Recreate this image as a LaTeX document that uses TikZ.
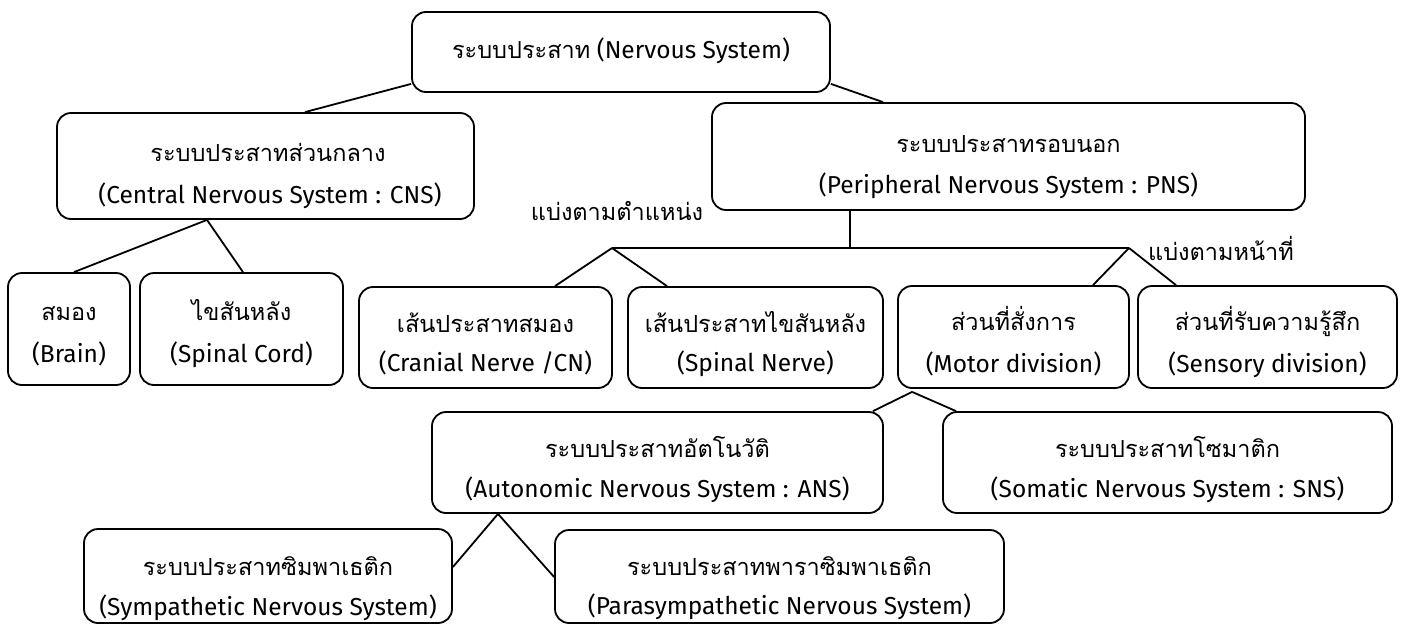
\documentclass[tikz,border=0pt]{standalone}
\usepackage{fontspec}
\setmainfont{Fira Sans}
\newfontfamily\thfont[Script=Thai]{Loma}
\usetikzlibrary{calc}
\tikzset{
  box/.style={draw=black, line width=1.8pt, rounded corners=14pt, fill=white, inner sep=0pt},
  ln/.style={anchor=base, inner sep=0pt, font=\fontsize{24.5}{30}\selectfont},
  conn/.style={draw=black, line width=1.8pt},
}
\newcommand{\T}[1]{{\thfont\fontsize{23.5}{28}\selectfont #1}}
\begin{document}
\begin{tikzpicture}[x=1pt,y=-1pt]
\useasboundingbox (0,0) rectangle (1403,624);
% boxes: center x, center y, width, height
\node[box, minimum width=418, minimum height=80] (ns) at (621,52) {};
\node[box, minimum width=417, minimum height=106] (cns) at (265.5,166) {};
\node[box, minimum width=593, minimum height=107] (pns) at (1008.5,156.5) {};
\node[box, minimum width=122, minimum height=112] (brain) at (69,329) {};
\node[box, minimum width=203, minimum height=112] (cord) at (241.5,329) {};
\node[box, minimum width=253, minimum height=101] (cn) at (485.5,337.5) {};
\node[box, minimum width=255, minimum height=101] (sn) at (755.5,337.5) {};
\node[box, minimum width=231, minimum height=102] (motor) at (1013.5,337) {};
\node[box, minimum width=259, minimum height=102] (sens) at (1267.5,337) {};
\node[box, minimum width=451, minimum height=101] (ans) at (657.5,462.5) {};
\node[box, minimum width=449, minimum height=101] (sns) at (1167.5,462.5) {};
\node[box, minimum width=368, minimum height=94] (sym) at (268,576) {};
\node[box, minimum width=449, minimum height=93] (para) at (779.5,576.5) {};

% texts
\node[ln] (nsA) at (621,58) {\T{ระบบประสาท} (Nervous System)};
\node[ln] (cnsA) at (268,161) {\T{ระบบประสาทส่วนกลาง}};
\node[ln] (cnsB) at (270,203) {(Central Nervous System : CNS)};
\node[ln] (pnsA) at (1008.5,152) {\T{ระบบประสาทรอบนอก}};
\node[ln] (pnsB) at (1008.5,193) {(Peripheral Nervous System : PNS)};
\node[ln] (brainA) at (69,320) {\T{สมอง}};
\node[ln] (brainB) at (69,362) {(Brain)};
\node[ln] (cordA) at (241.5,320) {\T{ไขสันหลัง}};
\node[ln] (cordB) at (241.5,362) {(Spinal Cord)};
\node[ln] (cnA) at (485.5,332) {\T{เส้นประสาทสมอง}};
\node[ln] (cnB) at (485.5,371) {(Cranial Nerve /CN)};
\node[ln] (snA) at (755.5,332) {\T{เส้นประสาทไขสันหลัง}};
\node[ln] (snB) at (755.5,371) {(Spinal Nerve)};
\node[ln] (motorA) at (1013.5,330) {\T{ส่วนที่สั่งการ}};
\node[ln] (motorB) at (1013.5,372) {(Motor division)};
\node[ln] (sensA) at (1267.5,330) {\T{ส่วนที่รับความรู้สึก}};
\node[ln] (sensB) at (1267.5,372) {(Sensory division)};
\node[ln] (ansA) at (657.5,457) {\T{ระบบประสาทอัตโนวัติ}};
\node[ln] (ansB) at (657.5,497) {(Autonomic Nervous System : ANS)};
\node[ln] (snsA) at (1167.5,457) {\T{ระบบประสาทโซมาติก}};
\node[ln] (snsB) at (1167.5,497) {(Somatic Nervous System : SNS)};
\node[ln] (symA) at (268,575) {\T{ระบบประสาทซิมพาเธติก}};
\node[ln] (symB) at (268,615) {(Sympathetic Nervous System)};
\node[ln] (paraA) at (779.5,575) {\T{ระบบประสาทพาราซิมพาเธติก}};
\node[ln] (paraB) at (779.5,614) {(Parasympathetic Nervous System)};
\node[ln] (lab1) at (617,220) {\T{แบ่งตามตำแหน่ง}};
\node[ln] (lab2) at (1221,260) {\T{แบ่งตามหน้าที่}};

% junction coordinates
\coordinate (jpos) at (612,248);
\coordinate (jfun) at (1129,248);
\coordinate (jtrunk) at (850,248);

% connectors
\draw[conn] ($(ns.south west)+(0,-9)$) -- (cns.north -| 305,0);
\draw[conn] ($(ns.south east)+(0,-9)$) -- (pns.north -| 883,0);
\draw[conn] (cns.south -| 207,0) -- (brain.north -| 74,0);
\draw[conn] (cns.south -| 207,0) -- (cord.north -| 243,0);
\draw[conn] (pns.south -| 850,0) -- (jtrunk);
\draw[conn] (jpos) -- (jfun);
\draw[conn] (jpos) -- (cn.north -| 555,0);
\draw[conn] (jpos) -- (sn.north -| 667,0);
\draw[conn] (jfun) -- (motor.north -| 1093,0);
\draw[conn] (jfun) -- (sens.north -| 1176,0);
\draw[conn] ($(motor.south west)+(15,3)$) -- (ans.north -| 873,0);
\draw[conn] ($(motor.south west)+(15,3)$) -- (sns.north -| 956,0);
\draw[conn] (ans.south -| 498,0) -- (sym.east |- 0,567);
\draw[conn] (ans.south -| 498,0) -- (para.west |- 0,577);
\end{tikzpicture}
\end{document}
